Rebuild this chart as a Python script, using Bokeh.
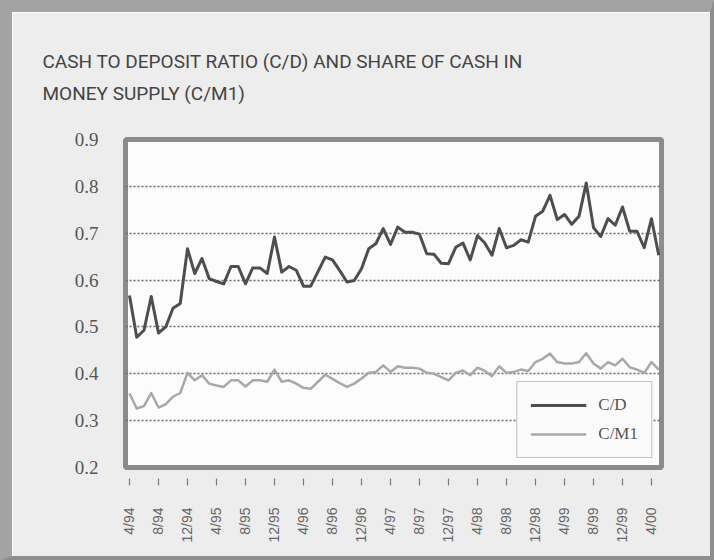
import math
from bokeh.plotting import figure
from bokeh.models import FixedTicker, Legend, LegendItem, Range1d, Title
from bokeh.embed import file_html
from bokeh.resources import INLINE

# ---- data (monthly, 4/94 .. 5/00) ----
cd = [0.567, 0.478, 0.493, 0.565, 0.487, 0.500, 0.540, 0.550, 0.667, 0.614,
      0.646, 0.603, 0.597, 0.592, 0.629, 0.629, 0.592, 0.626, 0.626, 0.614,
      0.692, 0.617, 0.629, 0.621, 0.587, 0.587, 0.618, 0.649, 0.643, 0.620,
      0.596, 0.599, 0.624, 0.667, 0.678, 0.710, 0.676, 0.713, 0.702, 0.702,
      0.698, 0.656, 0.655, 0.636, 0.635, 0.670, 0.679, 0.643, 0.695, 0.679,
      0.653, 0.710, 0.669, 0.674, 0.686, 0.681, 0.736, 0.747, 0.781, 0.729,
      0.740, 0.719, 0.736, 0.807, 0.712, 0.693, 0.731, 0.717, 0.756, 0.704,
      0.704, 0.669, 0.731, 0.653]
cm1 = [0.358, 0.326, 0.331, 0.359, 0.328, 0.335, 0.351, 0.359, 0.402, 0.386,
       0.397, 0.379, 0.375, 0.372, 0.386, 0.386, 0.373, 0.386, 0.386, 0.383,
       0.409, 0.383, 0.386, 0.379, 0.370, 0.368, 0.383, 0.398, 0.389, 0.380,
       0.372, 0.379, 0.390, 0.402, 0.404, 0.418, 0.404, 0.416, 0.413, 0.413,
       0.411, 0.402, 0.400, 0.393, 0.386, 0.402, 0.407, 0.397, 0.413, 0.406,
       0.395, 0.416, 0.402, 0.404, 0.409, 0.406, 0.425, 0.432, 0.443, 0.425,
       0.422, 0.422, 0.425, 0.444, 0.422, 0.411, 0.425, 0.418, 0.432, 0.414,
       0.409, 0.402, 0.425, 0.409]
month_index = list(range(len(cd)))  # months since 4/94

x_tick_labels = ["4/94", "8/94", "12/94", "4/95", "8/95", "12/95", "4/96", "8/96",
                 "12/96", "4/97", "8/97", "12/97", "4/98", "8/98", "12/98", "4/99",
                 "8/99", "12/99", "4/00"]
y_ticks = [0.2, 0.3, 0.4, 0.5, 0.6, 0.7, 0.8, 0.9]
y_tick_labels = ["0.2", "0.3", "0.4", "0.5", "0.6", "0.7", "0.8", "0.9"]
title_lines = ["CASH TO DEPOSIT RATIO (C/D) AND SHARE OF CASH IN", "MONEY SUPPLY (C/M1)"]
series_names = ["C/D", "C/M1"]

x_ticks = [4 * i for i in range(len(x_tick_labels))]

p = figure(width=714, height=560, output_backend="svg", toolbar_location=None, title=None,
           x_range=Range1d(-0.55, 73.38), y_range=Range1d(0.2, 0.9),
           min_border_left=113, min_border_right=65, min_border_top=127, min_border_bottom=105,
           background_fill_color="#fcfcfc", border_fill_color="#ededed",
           outline_line_color="#8c8c8c", outline_line_width=5,
           styles={"border-style": "solid", "border-color": "#a3a3a3 #8e8e8e #8e8e8e #a3a3a3",
                   "border-width": "12px 4px 4px 12px"})

# y axis
p.yaxis.ticker = FixedTicker(ticks=y_ticks)
p.yaxis.major_label_overrides = dict(zip(y_ticks, y_tick_labels))
p.yaxis.axis_line_color = None
p.yaxis.major_tick_line_color = None
p.yaxis.minor_tick_line_color = None
p.yaxis.major_tick_out = 0
p.yaxis.major_tick_in = 0
p.yaxis.major_label_standoff = 27
p.yaxis.major_label_text_font = "Liberation Serif"
p.yaxis.major_label_text_font_size = "19px"
p.yaxis.major_label_text_color = "#555555"

# x axis
p.xaxis.ticker = FixedTicker(ticks=x_ticks)
p.xaxis.major_label_overrides = dict(zip(x_ticks, x_tick_labels))
p.xaxis.major_label_orientation = math.pi / 2
p.xaxis.axis_line_color = None
p.xaxis.minor_tick_line_color = None
p.xaxis.major_tick_in = -11
p.xaxis.major_tick_out = 18
p.xaxis.major_tick_line_color = "#7a7a7a"
p.xaxis.major_tick_line_width = 1.2
p.xaxis.major_label_standoff = 22
p.xaxis.major_label_text_font = "Liberation Sans"
p.xaxis.major_label_text_font_size = "14px"
p.xaxis.major_label_text_color = "#666666"

# grid
p.xgrid.grid_line_color = None
p.ygrid.ticker = FixedTicker(ticks=y_ticks[1:-1])
p.ygrid.grid_line_color = "#6a6a6a"
p.ygrid.grid_line_dash = "2 2"
p.ygrid.grid_line_width = 1.5

r1 = p.line(month_index, cd, line_color="#4e4e4e", line_width=3, line_join="round")
r2 = p.line(month_index, cm1, line_color="#a8a8a8", line_width=2.5, line_join="round")

legend = Legend(items=[LegendItem(label=series_names[0], renderers=[r1]),
                       LegendItem(label=series_names[1], renderers=[r2])],
                location="bottom_right", orientation="vertical",
                border_line_color="#8a8a8a", border_line_width=1.5,
                background_fill_color="#fbfbfb", background_fill_alpha=1,
                label_text_font="Liberation Serif", label_text_font_size="17px",
                label_text_color="#555555", glyph_width=56, glyph_height=20,
                label_standoff=12, padding=13, spacing=9, margin=9)
p.add_layout(legend)

# two-line title
p.add_layout(Title(text="\n".join(title_lines), align="left", offset=-83, standoff=68,
                   text_font="Roboto", text_font_size="19px", text_color="#444444",
                   text_line_height=1.42, text_font_style="normal"), "above")

open("out.html", "w").write(file_html(p, INLINE))
